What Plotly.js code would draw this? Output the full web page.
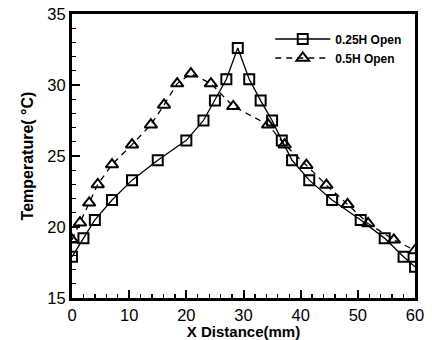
<!DOCTYPE html>
<html><head><meta charset="utf-8">
<script src="https://cdn.plot.ly/plotly-3.0.1.min.js"></script>
<style>html,body{margin:0;padding:0;background:#fff}#chart{width:432px;height:340px}</style>
</head><body><div id="chart"></div>
<script>
const sqX = [0, 2, 4, 7, 10.5, 15, 20, 23, 25, 27, 29, 31, 33, 35, 36.7, 38.5, 41.5, 45.5, 50.5, 54.7, 58, 60];
const sqY = [17.9, 19.2, 20.5, 21.9, 23.3, 24.7, 26.1, 27.5, 28.9, 30.4, 32.6, 30.4, 28.9, 27.5, 26.1, 24.7, 23.3, 21.9, 20.5, 19.2, 17.9, 17.2];
const trX = [0, 1.4, 3, 4.5, 7, 10.5, 13.8, 16.1, 18.4, 20.8, 24.3, 28.2, 34.3, 37.2, 41, 44.5, 48.2, 51.8, 56.3, 60];
const trY = [19.1, 20.3, 21.7, 23.0, 24.4, 25.8, 27.2, 28.6, 30.1, 30.8, 30.1, 28.5, 27.2, 25.8, 24.35, 22.95, 21.6, 20.25, 19.1, 18.35];
const names = ['0.25H Open', '0.5H Open'];

const traces = [
  {x: sqX, y: sqY, name: names[0], mode: 'lines+markers', type: 'scatter',
   line: {color: '#000', width: 1.3},
   marker: {symbol: 'square-open', size: 10, color: '#000', line: {width: 2, color: '#000'}}},
  {x: trX, y: trY, name: names[1], mode: 'lines+markers', type: 'scatter',
   line: {color: '#000', width: 1.3, dash: '6px,5px'},
   marker: {symbol: 'triangle-up-open', size: 11, color: '#000', line: {width: 2, color: '#000'}}}
];

const FONT = 'Liberation Sans, Arial, sans-serif';
const axCommon = {
  showgrid: false, zeroline: false, showline: true, linecolor: '#000', linewidth: 3,
  mirror: true, ticks: 'inside', ticklen: 8, tickwidth: 2, tickcolor: '#000',
  tickfont: {family: FONT, size: 16.5, color: '#000'}
};

const layout = {
  width: 432, height: 340,
  margin: {l: 72, r: 17, t: 14, b: 42},
  paper_bgcolor: '#fff', plot_bgcolor: '#fff',
  showlegend: true,
  legend: {x: 0.578, xanchor: 'left', y: 0.963, yanchor: 'top', bgcolor: 'rgba(0,0,0,0)',
    font: {family: FONT, size: 12, color: '#000', weight: 'bold'},
    itemwidth: 55, tracegroupgap: 0},
  xaxis: Object.assign({}, axCommon, {
    range: [0, 60], dtick: 10, tick0: 0, ticklabelstandoff: 0,
    minor: {dtick: 2, ticks: 'inside', ticklen: 4, tickwidth: 1.3, tickcolor: '#000'},
    title: {text: 'X Distance(mm)', standoff: 6,
      font: {family: FONT, size: 15, color: '#000', weight: 'bold'}}
  }),
  yaxis: Object.assign({}, axCommon, {
    range: [15, 35], dtick: 5, tick0: 15,
    minor: {dtick: 1, ticks: 'inside', ticklen: 4, tickwidth: 1.3, tickcolor: '#000'},
    title: {text: 'Temperature( °C)', standoff: 10,
      font: {family: FONT, size: 16, color: '#000', weight: 'bold'}}
  })
};

Plotly.newPlot('chart', traces, layout, {displayModeBar: false, staticPlot: true});
</script>
</body></html>
